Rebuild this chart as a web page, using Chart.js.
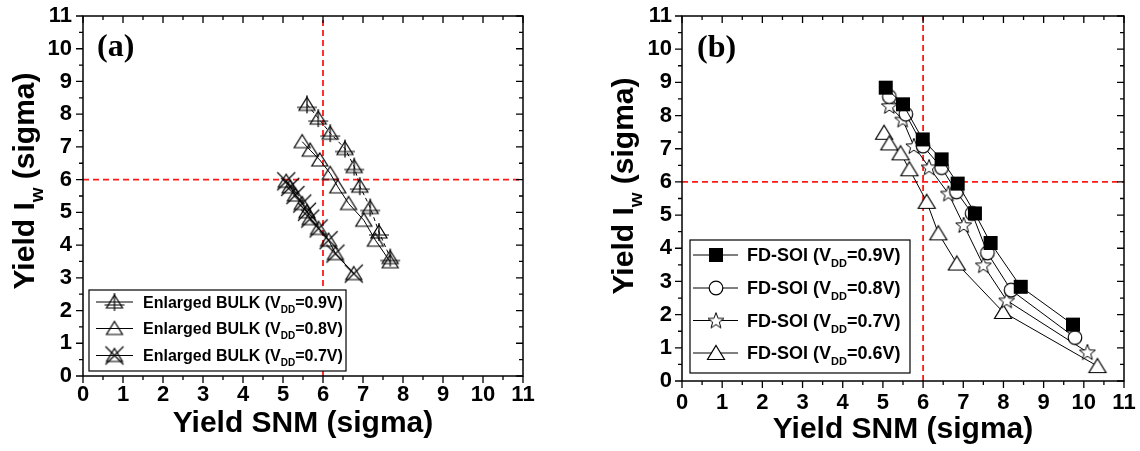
<!DOCTYPE html>
<html><head><meta charset="utf-8">
<script src="https://cdn.jsdelivr.net/npm/chart.js@4.4.0/dist/chart.umd.min.js"></script>
<style>
html,body{margin:0;padding:0;background:#fff;width:1140px;height:451px;overflow:hidden}
#wrapA{position:absolute;left:0;top:0;width:570px;height:451px}
#wrapB{position:absolute;left:570px;top:0;width:570px;height:451px}
</style></head><body>
<div id="wrapA"><canvas id="cA" width="570" height="451"></canvas></div>
<div id="wrapB"><canvas id="cB" width="570" height="451"></canvas></div>
<script>
// ---------- data ----------
const tickValues = [0,1,2,3,4,5,6,7,8,9,10,11];
const refSNM = 6;
const refIw = 6;

// panel (a): Enlarged BULK
const bulk09X = [5.60,5.88,6.18,6.55,6.78,6.92,7.18,7.40,7.68];
const bulk09Y = [8.30,7.88,7.42,6.95,6.40,5.80,5.15,4.40,3.62];
const bulk08X = [5.48,5.68,5.92,6.18,6.37,6.64,7.02,7.31,7.68];
const bulk08Y = [7.16,6.90,6.60,6.19,5.78,5.27,4.76,4.15,3.49];
const bulk07X = [5.08,5.18,5.31,5.48,5.60,5.68,5.89,6.14,6.31,6.77];
const bulk07Y = [5.95,5.78,5.53,5.27,5.02,4.81,4.51,4.15,3.74,3.13];
const vddA = ['0.9','0.8','0.7'];

// panel (b): FD-SOI
const soi09X = [5.07,5.50,5.99,6.46,6.86,7.29,7.68,8.43,9.73];
const soi09Y = [8.84,8.34,7.28,6.68,5.95,5.05,4.16,2.84,1.70];
const soi08X = [5.16,5.57,6.00,6.46,6.83,7.22,7.60,8.19,9.78];
const soi08Y = [8.57,8.04,7.08,6.43,5.70,5.05,3.86,2.74,1.31];
const soi07X = [5.16,5.49,5.77,6.15,6.63,7.01,7.50,8.08,10.09];
const soi07Y = [8.29,7.88,7.08,6.44,5.65,4.70,3.49,2.43,0.87];
const soi06X = [5.03,5.16,5.44,5.66,6.09,6.38,6.84,7.99,10.34];
const soi06Y = [7.48,7.16,6.86,6.38,5.40,4.45,3.54,2.08,0.45];
const vddB = ['0.9','0.8','0.7','0.6'];

// ---------- helpers ----------
const FONT = '"Liberation Sans", Arial, Helvetica, sans-serif';
const SERIF = '"Liberation Serif", "Times New Roman", serif';
const toPts = (X, Y) => X.map((x, i) => ({x, y: Y[i]}));

function mk(w, h, draw) {
  const c = document.createElement('canvas');
  c.width = w; c.height = h;
  const g = c.getContext('2d');
  g.lineWidth = 1.2; g.strokeStyle = '#000'; g.fillStyle = '#fff';
  draw(g, w / 2, h / 2);
  return c;
}
function triPath(g, cx, cy, hw, top, bot) {
  g.beginPath(); g.moveTo(cx, cy - top); g.lineTo(cx + hw, cy + bot); g.lineTo(cx - hw, cy + bot); g.closePath();
}
const mTriPlus = mk(24, 24, (g, cx, cy) => {
  triPath(g, cx, cy, 8, 7, 6); g.stroke();
  g.beginPath(); g.moveTo(cx, cy - 9); g.lineTo(cx, cy + 9); g.moveTo(cx - 10, cy + 3); g.lineTo(cx + 10, cy + 3); g.stroke();
});
const mTri = mk(24, 24, (g, cx, cy) => { triPath(g, cx, cy, 8, 7, 6); g.stroke(); });
const mTriX = mk(24, 24, (g, cx, cy) => {
  triPath(g, cx, cy, 8, 7, 6); g.stroke();
  g.beginPath(); g.moveTo(cx - 9, cy - 9); g.lineTo(cx + 9, cy + 9); g.moveTo(cx + 9, cy - 9); g.lineTo(cx - 9, cy + 9); g.stroke();
});
const mSq = mk(16, 16, (g, cx, cy) => { g.fillStyle = '#000'; g.fillRect(cx - 7, cy - 7, 14, 14); });
const mCirc = mk(18, 18, (g, cx, cy) => { g.beginPath(); g.arc(cx, cy, 6.8, 0, Math.PI * 2); g.fill(); g.stroke(); });
const mStar = mk(20, 20, (g, cx, cy) => {
  g.lineWidth = 1;
  g.beginPath();
  for (let i = 0; i < 10; i++) {
    const r = i % 2 ? 3.5 : 8.4; const a = -Math.PI / 2 + i * Math.PI / 5;
    const px = cx + r * Math.cos(a), py = cy + 0.6 + r * Math.sin(a);
    i ? g.lineTo(px, py) : g.moveTo(px, py);
  }
  g.closePath(); g.fill(); g.stroke();
});
const mTriW = mk(22, 20, (g, cx, cy) => { triPath(g, cx, cy, 8.5, 7.5, 6.5); g.fill(); g.stroke(); });

function series(X, Y, img, dash, label) {
  return {label, data: toPts(X, Y), showLine: true, borderColor: '#000', borderWidth: 1, borderDash: dash || [],
    pointStyle: img, pointRadius: 6, pointHoverRadius: 6, backgroundColor: 'rgba(0,0,0,0)', order: 1};
}
function refLines() {
  return [
    {data: [{x: refSNM, y: 0}, {x: refSNM, y: 11}], showLine: true, borderColor: '#ff1a1a', borderWidth: 1.8, borderDash: [6, 4], pointRadius: 0, order: 5},
    {data: [{x: 0, y: refIw}, {x: 11, y: refIw}], showLine: true, borderColor: '#ff1a1a', borderWidth: 1.8, borderDash: [6, 4], pointRadius: 0, order: 5}
  ];
}

function drawSubText(ctx, x, yBase, parts, fs, subFs) {
  ctx.font = 'bold ' + fs + 'px ' + FONT;
  ctx.textAlign = 'left'; ctx.textBaseline = 'alphabetic'; ctx.fillStyle = '#000';
  ctx.fillText(parts[0], x, yBase); x += ctx.measureText(parts[0]).width;
  ctx.font = 'bold ' + subFs + 'px ' + FONT;
  ctx.fillText(parts[1], x, yBase + fs * 0.32); x += ctx.measureText(parts[1]).width;
  ctx.font = 'bold ' + fs + 'px ' + FONT;
  ctx.fillText(parts[2], x, yBase);
}

const decor = {
  id: 'decor',
  afterDraw(chart, args, o) {
    const ctx = chart.ctx, ca = chart.chartArea, xs = chart.scales.x, ys = chart.scales.y;
    ctx.save();
    ctx.strokeStyle = '#000'; ctx.lineWidth = 1.5; ctx.setLineDash([]);
    ctx.strokeRect(ca.left, ca.top, ca.right - ca.left, ca.bottom - ca.top);
    ctx.lineWidth = 1.3;
    ctx.beginPath();
    for (let v = 0; v <= 11.001; v += 0.5) {
      const major = Math.abs(v - Math.round(v)) < 1e-6;
      const L = major ? 7 : 4;
      const px = xs.getPixelForValue(v);
      ctx.moveTo(px, ca.bottom); ctx.lineTo(px, ca.bottom + L);
      ctx.moveTo(px, ca.top); ctx.lineTo(px, ca.top + L);
      const py = ys.getPixelForValue(v);
      ctx.moveTo(ca.left, py); ctx.lineTo(ca.left - L, py);
      ctx.moveTo(ca.right, py); ctx.lineTo(ca.right - L, py);
    }
    ctx.stroke();
    ctx.fillStyle = '#000';
    ctx.font = 'bold 30px ' + FONT; ctx.textAlign = 'center'; ctx.textBaseline = 'alphabetic';
    ctx.fillText('Yield SNM (sigma)', (ca.left + ca.right) / 2, o.xTitleY);
    ctx.save();
    ctx.translate(o.yTitleX, o.yTitleCY); ctx.rotate(-Math.PI / 2);
    const p1 = 'Yield I', p2 = 'w', p3 = ' (sigma)';
    ctx.font = 'bold 30px ' + FONT; const w1 = ctx.measureText(p1).width, w3 = ctx.measureText(p3).width;
    ctx.font = 'bold 19px ' + FONT; const w2 = ctx.measureText(p2).width;
    let x = -(w1 + w2 + w3) / 2;
    ctx.textAlign = 'left';
    ctx.font = 'bold 30px ' + FONT; ctx.fillText(p1, x, 0); x += w1;
    ctx.font = 'bold 19px ' + FONT; ctx.fillText(p2, x, 9); x += w2;
    ctx.font = 'bold 30px ' + FONT; ctx.fillText(p3, x, 0);
    ctx.restore();
    ctx.font = 'bold 32px ' + SERIF; ctx.textAlign = 'left'; ctx.fillText(o.panel, o.panelX, o.panelY);
    const L = o.legend;
    ctx.fillStyle = '#fff'; ctx.fillRect(L.box[0], L.box[1], L.box[2] - L.box[0], L.box[3] - L.box[1]);
    ctx.strokeStyle = '#000'; ctx.lineWidth = 1.2;
    ctx.strokeRect(L.box[0], L.box[1], L.box[2] - L.box[0], L.box[3] - L.box[1]);
    chart.data.datasets.forEach((ds, i) => {
      if (!ds.label) return;
      const ry = L.rows[i];
      ctx.strokeStyle = '#000'; ctx.lineWidth = 1; ctx.setLineDash([]);
      ctx.beginPath(); ctx.moveTo(L.lineX[0], ry); ctx.lineTo(L.lineX[1], ry); ctx.stroke();
      const img = ds.pointStyle;
      ctx.drawImage(img, L.symX - img.width / 2, ry - img.height / 2);
      drawSubText(ctx, L.textX, ry + L.fs * 0.36, ds.label, L.fs, L.subFs);
    });
    ctx.restore();
  }
};

function scaleOpts(axis, size, pad) {
  return {
    type: 'linear', min: 0, max: 11,
    afterBuildTicks: s => { s.ticks = tickValues.map(v => ({value: v})); },
    ticks: {font: {family: FONT, size: 22, weight: 'bold'}, color: '#000', padding: pad, maxRotation: 0, autoSkip: false},
    grid: {display: false, drawTicks: false},
    border: {display: false},
    afterFit: s => {
      if (axis === 'x') s.height = size; else s.width = size;
      s.paddingLeft = 0; s.paddingRight = 0; s.paddingTop = 0; s.paddingBottom = 0;
    }
  };
}

function makeChart(id, datasets, ySize, pad, xPad, yPad, decorOpts) {
  return new Chart(document.getElementById(id), {
    type: 'scatter',
    data: {datasets},
    options: {
      responsive: false, animation: false, devicePixelRatio: 1,
      layout: {padding: pad, autoPadding: false},
      events: [],
      scales: {x: scaleOpts('x', 40, xPad), y: scaleOpts('y', ySize, yPad)},
      plugins: {legend: {display: false}, tooltip: {enabled: false}, decor: decorOpts}
    },
    plugins: [decor]
  });
}

const dsA = [
  series(bulk09X, bulk09Y, mTriPlus, [4, 3], ['Enlarged BULK (V', 'DD', '=' + vddA[0] + 'V)']),
  series(bulk08X, bulk08Y, mTri, [], ['Enlarged BULK (V', 'DD', '=' + vddA[1] + 'V)']),
  series(bulk07X, bulk07Y, mTriX, [], ['Enlarged BULK (V', 'DD', '=' + vddA[2] + 'V)']),
  ...refLines()
];
makeChart('cA', dsA, 83, {left: 0, top: 16, right: 47, bottom: 35}, 6, 11, {
  xTitleY: 432, yTitleX: 34, yTitleCY: 181, panel: '(a)', panelX: 97, panelY: 56,
  legend: {box: [89, 290, 346, 371], rows: [302, 328.5, 355.5], lineX: [96, 133], symX: 114.5, textX: 143, fs: 16, subFs: 10}
});

const dsB = [
  series(soi09X, soi09Y, mSq, [], ['FD-SOI (V', 'DD', '=' + vddB[0] + 'V)']),
  series(soi08X, soi08Y, mCirc, [], ['FD-SOI (V', 'DD', '=' + vddB[1] + 'V)']),
  series(soi07X, soi07Y, mStar, [], ['FD-SOI (V', 'DD', '=' + vddB[2] + 'V)']),
  series(soi06X, soi06Y, mTriW, [], ['FD-SOI (V', 'DD', '=' + vddB[3] + 'V)']),
  ...refLines()
];
makeChart('cB', dsB, 112, {left: 0, top: 16, right: 16, bottom: 30}, 9, 10, {
  xTitleY: 438, yTitleX: 63, yTitleCY: 186, panel: '(b)', panelX: 127, panelY: 57,
  legend: {box: [120, 240, 340, 373], rows: [255, 288, 320.5, 353], lineX: [123, 168], symX: 146, textX: 177, fs: 18, subFs: 11}
});
</script>
</body></html>
